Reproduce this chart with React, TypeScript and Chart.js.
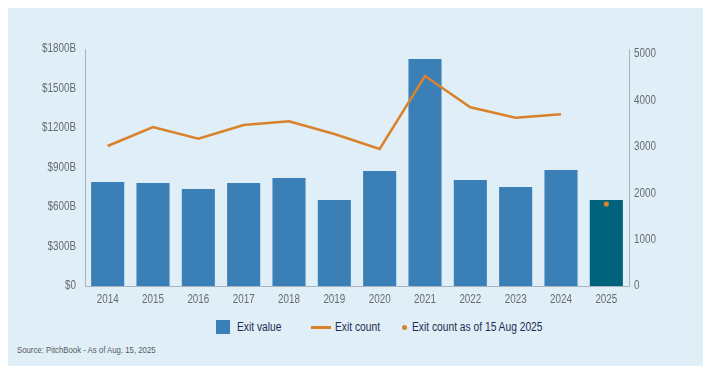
import React, { useEffect, useRef } from "react";
import { Chart, registerables } from "chart.js";

Chart.register(...registerables);

const years = ["2014", "2015", "2016", "2017", "2018", "2019", "2020", "2021", "2022", "2023", "2024", "2025"];
const exitValue = [790, 782, 737, 782, 820, 653, 873, 1724, 805, 752, 881, 653];
const exitCount = [3017, 3427, 3175, 3470, 3550, 3276, 2953, 4526, 3851, 3627, 3700, null];
const exitCountPartial = [null, null, null, null, null, null, null, null, null, null, null, 1767];
const leftTicks = [0, 300, 600, 900, 1200, 1500, 1800];
const rightTicks = [0, 1000, 2000, 3000, 4000, 5000];

const FONT = "'Liberation Sans', Arial, sans-serif";
const CONDENSE = 0.82;
const BAR = "#3a80b6";
const BAR_2025 = "#00627b";
const LINE = "#d9822b";
const AXIS = "#a9b3bd";
const TICK = "#666b70";
const NAVY = "#1d2b4f";

// Draws the library's own text horizontally condensed (like a narrow Helvetica).
const condensedText = {
  id: "condensedText",
  beforeDraw(chart: any) {
    const ctx = chart.ctx;
    if (ctx.__origFill) return;
    const orig = ctx.fillText.bind(ctx);
    ctx.__origFill = orig;
    ctx.fillText = (t: string, x: number, y: number, mw?: number) => {
      const w = ctx.measureText(t).width * CONDENSE;
      orig(t, x, y, mw !== undefined ? Math.min(mw, w) : w);
    };
  },
  afterDraw(chart: any) {
    const ctx = chart.ctx;
    if (ctx.__origFill) {
      ctx.fillText = ctx.__origFill;
      delete ctx.__origFill;
    }
  },
};

export default function App() {
  const ref = useRef<HTMLCanvasElement | null>(null);

  useEffect(() => {
    if (!ref.current) return;
    Chart.defaults.font.family = FONT;
    const chart = new Chart(ref.current, {
      type: "bar",
      plugins: [condensedText],
      data: {
        labels: years,
        datasets: [
          {
            type: "line",
            label: "Exit count",
            data: exitCount,
            yAxisID: "y1",
            borderColor: LINE,
            backgroundColor: LINE,
            borderWidth: 2.5,
            pointRadius: 0,
            tension: 0,
            order: 1,
          } as any,
          {
            type: "line",
            label: "Exit count as of 15 Aug 2025",
            data: exitCountPartial,
            yAxisID: "y1",
            showLine: false,
            pointRadius: 2.6,
            pointBackgroundColor: LINE,
            pointBorderWidth: 0,
            borderColor: LINE,
            order: 0,
          } as any,
          {
            type: "bar",
            label: "Exit value",
            data: exitValue,
            yAxisID: "y",
            backgroundColor: years.map((_, i) => (i === years.length - 1 ? BAR_2025 : BAR)),
            barPercentage: 0.73,
            categoryPercentage: 1,
            order: 2,
          },
        ],
      },
      options: {
        animation: false,
        responsive: false,
        maintainAspectRatio: false,
        layout: { padding: { top: 41, left: 0, right: 0, bottom: 0 } },
        plugins: {
          legend: { display: false },
          tooltip: { enabled: false },
        },
        scales: {
          x: {
            grid: { display: false, drawTicks: false },
            border: { display: true, color: AXIS, width: 1 },
            ticks: { color: TICK, font: { size: 12, family: FONT }, padding: 6 },
            afterFit: (s: any) => {
              s.height = 22;
            },
          },
          y: {
            position: "left",
            min: 0,
            max: 1800,
            grid: { display: false, drawTicks: false },
            border: { display: true, color: AXIS, width: 1 },
            ticks: {
              color: TICK,
              font: { size: 12, family: FONT },
              padding: 9,
              callback: (v: any) => (Number(v) === 0 ? "$0" : "$" + v + "B"),
            },
            afterBuildTicks: (s: any) => {
              s.ticks = leftTicks.map((v) => ({ value: v }));
            },
            afterFit: (s: any) => {
              s.width = 77;
            },
          },
          y1: {
            position: "right",
            min: 0,
            max: 5108,
            grid: { display: false, drawTicks: false },
            border: { display: true, color: AXIS, width: 1 },
            ticks: {
              color: TICK,
              font: { size: 12, family: FONT },
              padding: 5,
              callback: (v: any) => String(v),
            },
            afterBuildTicks: (s: any) => {
              s.ticks = rightTicks.map((v) => ({ value: v }));
            },
            afterFit: (s: any) => {
              s.width = 76;
            },
          },
        },
      },
    });
    return () => chart.destroy();
  }, []);

  const text: React.CSSProperties = {
    position: "absolute",
    fontFamily: FONT,
    fontSize: 12.5,
    color: NAVY,
    lineHeight: "14px",
    whiteSpace: "nowrap",
    transform: `scaleX(${CONDENSE})`,
    transformOrigin: "left center",
  };

  return (
    <div style={{ position: "relative", width: 697, height: 358, background: "#e0eef8" }}>
      <canvas ref={ref} width={697} height={300} style={{ position: "absolute", left: 0, top: 0, width: 697, height: 300 }} />
      <div style={{ position: "absolute", left: 208, top: 312, width: 14, height: 14, background: BAR }} />
      <div style={{ ...text, left: 229, top: 312 }}>Exit value</div>
      <div style={{ position: "absolute", left: 303, top: 318, width: 20, height: 3, background: LINE }} />
      <div style={{ ...text, left: 327, top: 312 }}>Exit count</div>
      <div style={{ position: "absolute", left: 393.5, top: 316.5, width: 5, height: 5, borderRadius: "50%", background: LINE }} />
      <div style={{ ...text, left: 404, top: 312 }}>Exit count as of 15 Aug 2025</div>
      <div style={{ ...text, left: 9, top: 336, fontSize: 9.5, color: "#555a60", lineHeight: "12px" }}>
        Source: PitchBook - As of Aug. 15, 2025
      </div>
    </div>
  );
}
